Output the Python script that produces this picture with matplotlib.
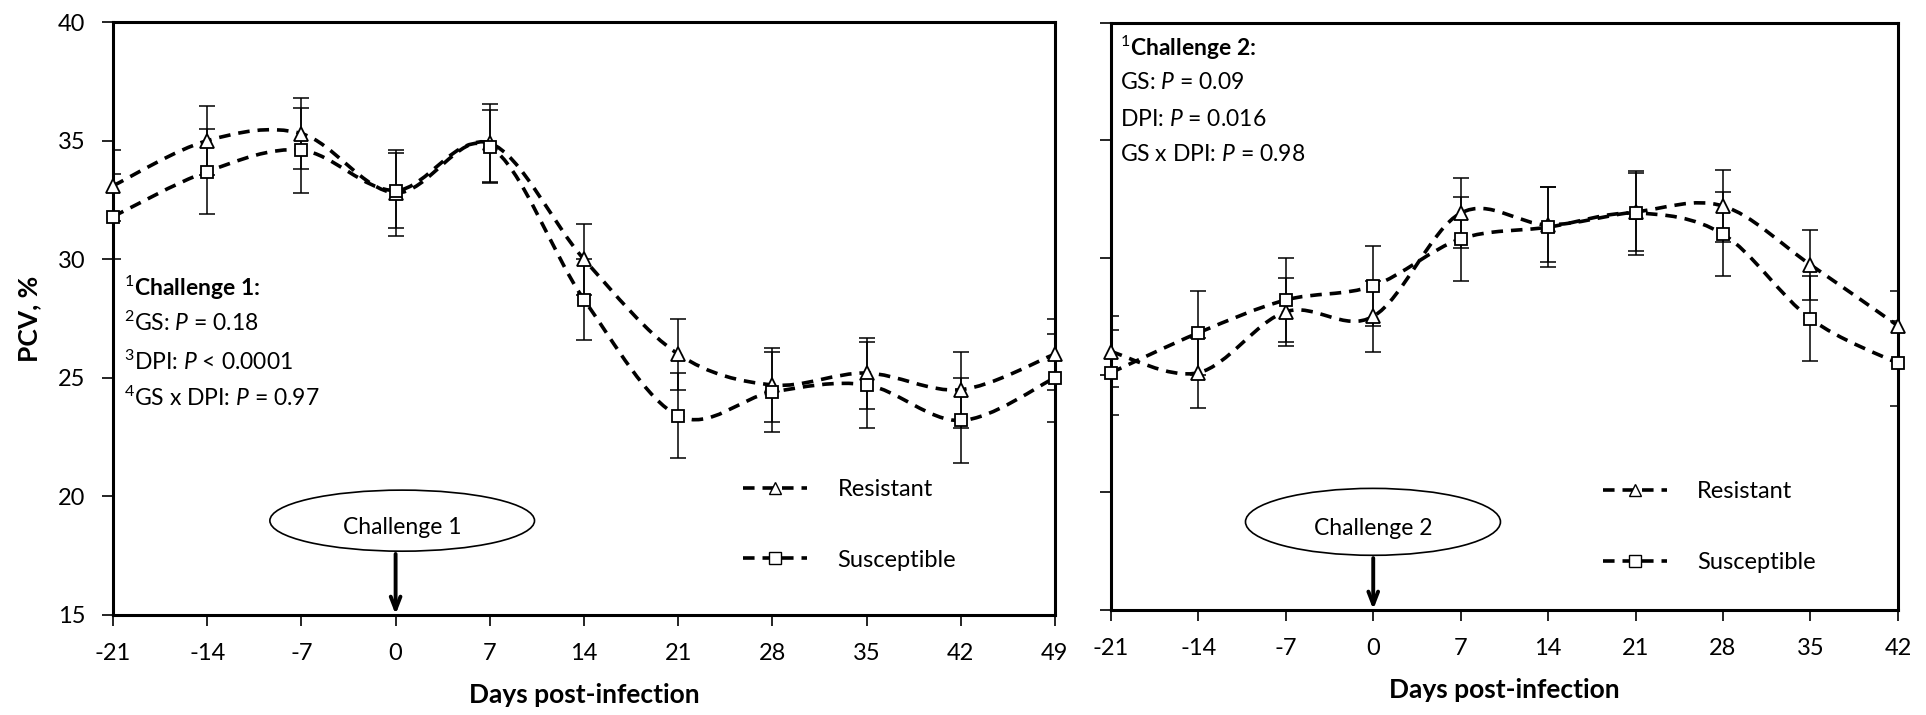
import numpy as np
import matplotlib.pyplot as plt
from matplotlib.path import Path
from matplotlib.patches import PathPatch, Ellipse
from matplotlib.lines import Line2D

plt.rcParams['font.family'] = ['Lato', 'DejaVu Sans']
plt.rcParams['axes.unicode_minus'] = False
plt.rcParams['mathtext.fontset'] = 'custom'
plt.rcParams['mathtext.rm'] = 'Lato'
plt.rcParams['mathtext.it'] = 'Lato:italic'
plt.rcParams['mathtext.bf'] = 'Lato:bold'

# challenge 1
days1 = [-21, -14, -7, 0, 7, 14, 21, 28, 35, 42, 49]
res1 = [33.1, 35.0, 35.3, 32.8, 34.9, 30.0, 26.0, 24.7, 25.2, 24.5, 26.0]
res1_err = [1.5, 1.45, 1.5, 1.8, 1.65, 1.5, 1.5, 1.55, 1.5, 1.6, 1.5]
sus1 = [31.8, 33.7, 34.6, 32.9, 34.75, 28.3, 23.4, 24.4, 24.7, 23.2, 25.0]
sus1_err = [1.8, 1.8, 1.8, 1.6, 1.55, 1.7, 1.8, 1.7, 1.8, 1.8, 1.85]

# challenge 2
days2 = [-21, -14, -7, 0, 7, 14, 21, 28, 35, 42]
res2 = [26.0, 25.1, 27.7, 27.5, 31.9, 31.4, 31.95, 32.2, 29.7, 27.1]
res2_err = [1.5, 1.5, 1.45, 1.5, 1.5, 1.6, 1.65, 1.55, 1.5, 1.5]
sus2 = [25.1, 26.8, 28.2, 28.8, 30.8, 31.3, 31.9, 31.0, 27.4, 25.5]
sus2_err = [1.8, 1.8, 1.8, 1.7, 1.8, 1.7, 1.8, 1.8, 1.8, 1.8]

stats1 = [r'$^{1}$Challenge 1:', r'$^{2}$GS: $P$ = 0.18',
          r'$^{3}$DPI: $P$ < 0.0001', r'$^{4}$GS x DPI: $P$ = 0.97']
stats2 = [r'$^{1}$Challenge 2:', r'GS: $P$ = 0.09',
          r'DPI: $P$ = 0.016', r'GS x DPI: $P$ = 0.98']

DASH = (0, (3.2, 2.2))


def smooth_path(x, y):
    # excel style smoothed line (catmull-rom as bezier)
    pts = np.column_stack([x, y]).astype(float)
    n = len(pts)
    verts = [pts[0]]
    codes = [Path.MOVETO]
    for i in range(n - 1):
        p0 = pts[i - 1] if i > 0 else pts[i]
        p1 = pts[i]
        p2 = pts[i + 1]
        p3 = pts[i + 2] if i + 2 < n else pts[i + 1]
        verts += [p1 + (p2 - p0) / 6., p2 - (p3 - p1) / 6., p2]
        codes += [Path.CURVE4] * 3
    return Path(verts, codes)


def draw_panel(ax, days, res, res_err, sus, sus_err, stats, txt_pos, label,
               ell_pos, leg_pos, xmax, show_ylabels):
    for y, err, mk, ms in [(res, res_err, '^', 10), (sus, sus_err, 's', 9)]:
        ax.add_patch(PathPatch(smooth_path(days, y), fill=False, lw=2.6,
                               ls=DASH, ec='black', zorder=2))
        ax.errorbar(days, y, yerr=err, fmt='none', ecolor='black',
                    elinewidth=1.1, capsize=6, capthick=1.1, zorder=3)
        ax.plot(days, y, ls='none', marker=mk, ms=ms, mfc='white',
                mec='black', mew=1.3, zorder=4, clip_on=False)

    ax.set_xlim(-21, xmax)
    ax.set_ylim(15, 40)
    ax.set_xticks(np.arange(-21, xmax + 1, 7))
    ax.set_yticks([15, 20, 25, 30, 35, 40])
    if not show_ylabels:
        ax.set_yticklabels([])
    ax.tick_params(axis='both', direction='out', length=8, width=1.2,
                   labelsize=17)
    ax.tick_params(axis='y', pad=12)
    ax.tick_params(axis='x', pad=12)
    for sp in ax.spines.values():
        sp.set_linewidth(2.2)
    ax.set_xlabel('Days post-infection', fontsize=19, fontweight='bold',
                  labelpad=14)

    x0, ys = txt_pos
    for i, (s, yy) in enumerate(zip(stats, ys)):
        ax.text(x0, yy, s, transform=ax.transAxes, fontsize=16.5,
                fontweight='bold' if i == 0 else 'normal', va='center',
                ha='left')

    cx, cy, w, h = ell_pos
    ax.add_patch(Ellipse((cx, cy), w, h, transform=ax.transAxes,
                         fc='white', ec='black', lw=1.2, zorder=5))
    ax.text(cx, cy - 0.012, label, transform=ax.transAxes, fontsize=16.5,
            ha='center', va='center', zorder=6)
    ybot = cy - h / 2
    ax.annotate('', xy=(0, 14.9), xycoords='data',
                xytext=(0, 15 + ybot * 25), textcoords='data',
                arrowprops=dict(arrowstyle='->,head_length=0.9,head_width=0.35',
                                lw=2.8, color='black'), zorder=6,
                annotation_clip=False)

    handles = [Line2D([], [], ls=DASH, lw=2.6, color='black', marker='^',
                      ms=9, mfc='white', mec='black'),
               Line2D([], [], ls=DASH, lw=2.6, color='black', marker='s',
                      ms=8, mfc='white', mec='black')]
    ax.legend(handles, ['Resistant', 'Susceptible'], loc='center left',
              bbox_to_anchor=leg_pos, frameon=False, fontsize=17,
              handlelength=2.7, handletextpad=1.3, labelspacing=2.1,
              borderpad=0, borderaxespad=0)


fig = plt.figure(figsize=(19.26, 7.15), dpi=100)
ax1 = fig.add_axes([0.0587, 0.140, 0.489, 0.829])
ax2 = fig.add_axes([0.5768, 0.147, 0.4086, 0.821])

draw_panel(ax1, days1, res1, res1_err, sus1, sus1_err, stats1,
           (0.012, [0.551, 0.492, 0.427, 0.366]), 'Challenge 1',
           (0.307, 0.159, 0.281, 0.103), (0.669, 0.152), 49, True)
draw_panel(ax2, days2, res2, res2_err, sus2, sus2_err, stats2,
           (0.012, [0.957, 0.899, 0.835, 0.775]), 'Challenge 2',
           (0.333, 0.150, 0.324, 0.114), (0.625, 0.141), 42, False)

ax1.set_ylabel('PCV, %', fontsize=19, fontweight='bold', labelpad=12)

fig.savefig('out.png', dpi=100)
